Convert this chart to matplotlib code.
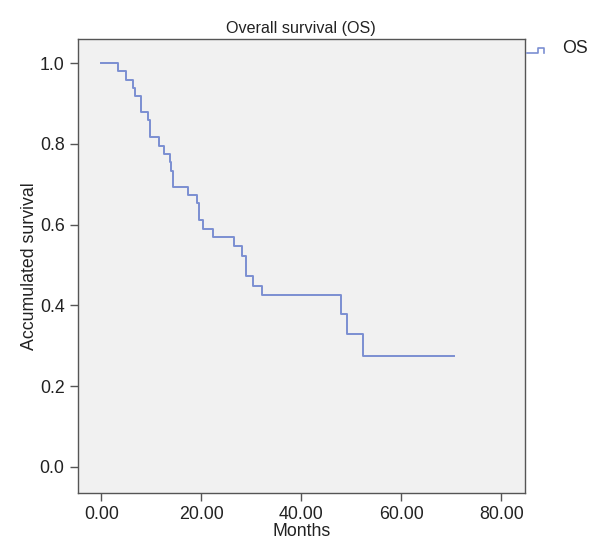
import numpy as np
import matplotlib
matplotlib.use('Agg')
import matplotlib.pyplot as plt
from matplotlib.lines import Line2D

plt.rcParams['font.family'] = ['Liberation Sans', 'DejaVu Sans']

# Kaplan-Meier steps (months, survival)
months = [0.0, 3.3, 4.9, 6.4, 6.7, 7.9, 9.4, 9.8, 11.6, 12.6, 13.7, 14.0, 14.4,
          17.4, 19.1, 19.6, 20.4, 22.3, 26.5, 28.2, 28.9, 30.3, 32.2, 48.0,
          49.1, 52.3, 70.6]
survival = [1.0, 0.980, 0.959, 0.939, 0.918, 0.878, 0.858, 0.816, 0.795, 0.775,
            0.754, 0.733, 0.694, 0.673, 0.653, 0.612, 0.590, 0.569, 0.546,
            0.522, 0.473, 0.449, 0.426, 0.378, 0.330, 0.275, 0.275]

xticks = [0, 20, 40, 60, 80]
yticks = [0.0, 0.2, 0.4, 0.6, 0.8, 1.0]

line_color = '#7b8fd2'
edge = '#555555'
txt = '#222222'
fs = 12.8

fig = plt.figure(figsize=(5.95, 5.4), dpi=100)
ax = fig.add_axes([0.1306, 0.087, 0.7517, 0.841])
ax.set_facecolor('#f1f1f1')

ax.step(months, survival, where='post', color=line_color, linewidth=1.4)

ax.set_xlim(-4.7, 84.7)
ax.set_ylim(-0.065, 1.06)
ax.set_xticks(xticks)
ax.set_xticklabels(['%.2f' % t for t in xticks])
ax.set_yticks(yticks)
ax.set_yticklabels(['%.1f' % t for t in yticks])

for s in ax.spines.values():
    s.set_color(edge)
    s.set_linewidth(1.0)
ax.tick_params(direction='out', length=5.5, width=1, color=edge,
               labelsize=fs, labelcolor=txt, pad=4)

ax.set_xlabel('Months', fontsize=fs, color=txt, labelpad=0)
ax.set_ylabel('Accumulated survival', fontsize=fs, color=txt, labelpad=1)
ax.set_title('Overall survival (OS)', fontsize=11.6, color=txt, pad=4)

fx = lambda px: px / 595.0
fy = lambda py: 1 - py / 540.0

# legend glyph outside the plot, top right
glyph = Line2D([fx(527), fx(538), fx(538), fx(543.5), fx(543.5)],
               [fy(52.5), fy(52.5), fy(47.5), fy(47.5), fy(53)],
               transform=fig.transFigure, color=line_color, linewidth=1.2)
fig.add_artist(glyph)
fig.text(fx(562), fy(48.5), 'OS', fontsize=fs, color=txt, va='center')

fig.savefig('out.png', dpi=100)
